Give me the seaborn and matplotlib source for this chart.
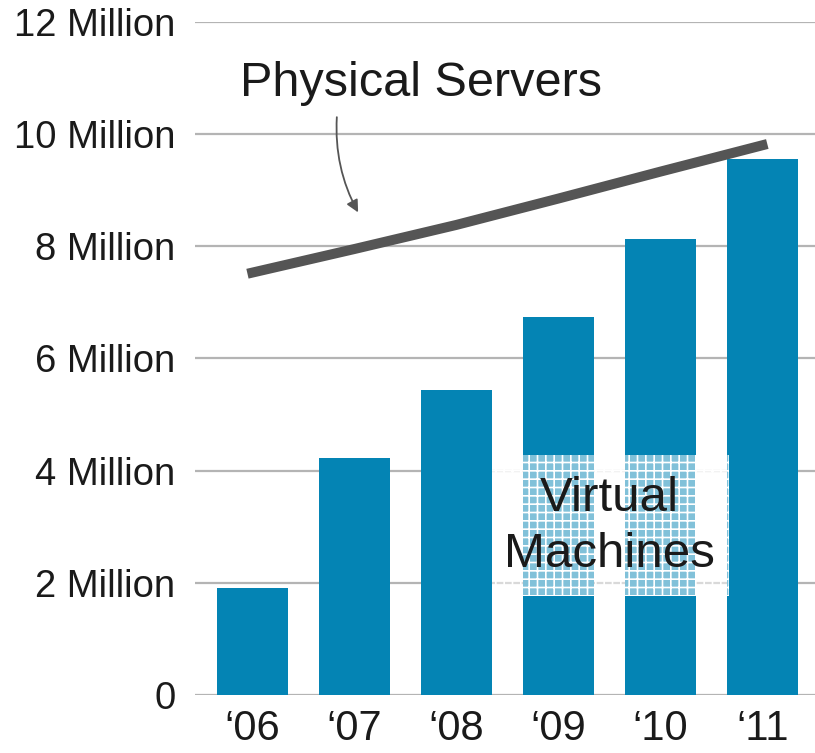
import matplotlib
matplotlib.use("Agg")
import matplotlib.pyplot as plt
import seaborn as sns
import numpy as np
import pandas as pd
from matplotlib.patches import Rectangle

years = ["\u201806", "\u201807", "\u201808", "\u201809", "\u201810", "\u201811"]
virtual_machines = [1.9, 4.22, 5.44, 6.73, 8.13, 9.55]   # millions
physical_servers = [7.53, 7.95, 8.38, 8.85, 9.33, 9.8]   # millions
ytick_values = [0, 2, 4, 6, 8, 10, 12]
ytick_labels = ["0", "2 Million", "4 Million", "6 Million", "8 Million", "10 Million", "12 Million"]

sns.set_theme(style="white")
plt.rcParams['font.family'] = ['Liberation Sans', 'DejaVu Sans']
plt.rcParams['hatch.linewidth'] = 1.2

df = pd.DataFrame({"year": years, "vm": virtual_machines, "phys": physical_servers})

fig = plt.figure(figsize=(8.15, 7.53), dpi=100)
ax = fig.add_axes([0.239, 0.077, 0.761, 0.894])

sns.barplot(data=df, x="year", y="vm", color="#0484B4", saturation=1, width=0.7,
            ax=ax, zorder=2, linewidth=0)
sns.lineplot(x=np.arange(len(years)), y=df["phys"], color="#555555", linewidth=7.2,
             ax=ax, zorder=4, solid_capstyle="projecting")

ax.set_ylim(0, 12)
ax.set_xlim(-0.564, 5.515)
ax.set_yticks(ytick_values)
ax.set_yticklabels(ytick_labels)
ax.set_xlabel("")
ax.set_ylabel("")
ax.yaxis.grid(True, color="#B4B4B4", linewidth=1.6)
ax.set_axisbelow(True)
for s in ax.spines.values():
    s.set_visible(False)
ax.tick_params(axis="y", length=0, pad=14, labelsize=27.5, labelcolor="#1a1a1a")
ax.tick_params(axis="x", length=0, pad=10, labelsize=30, labelcolor="#1a1a1a")

# Virtual Machines label box
ax.add_patch(Rectangle((2.35, 1.76), 2.32, 2.52, facecolor=(1, 1, 1, 0.5),
                       edgecolor="white", hatch="++", linewidth=0, zorder=3))
ax.text(3.5, 3.0, "Virtual\nMachines", ha="center", va="center", fontsize=35.5,
        color="#1a1a1a", zorder=5, linespacing=1.3)

# Physical Servers annotation
ax.annotate("", xy=(1.05, 8.56), xytext=(0.83, 10.35),
            arrowprops=dict(arrowstyle="-|>", color="#555555", lw=1.3,
                            connectionstyle="arc3,rad=0.15", mutation_scale=18),
            zorder=5)
ax.text(1.65, 10.9, "Physical Servers", ha="center", va="center", fontsize=35,
        color="#1a1a1a", zorder=5)

fig.savefig("out.png", dpi=100)
